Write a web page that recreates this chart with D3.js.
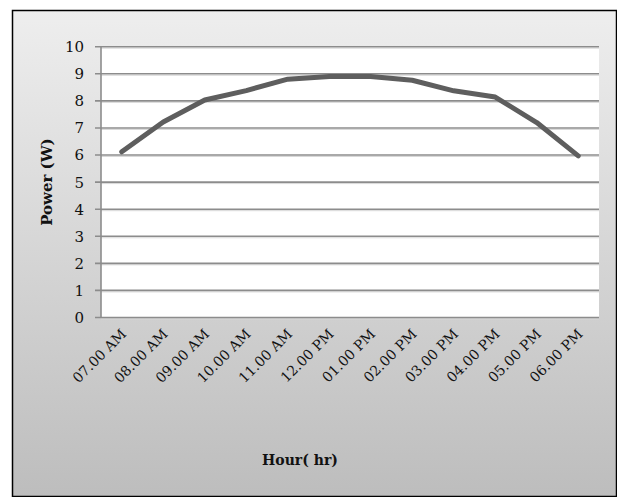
<!DOCTYPE html>
<html>
<head>
<meta charset="utf-8">
<script src="https://cdn.jsdelivr.net/npm/d3@7"></script>
<style>
  body { margin: 0; background: #fff; }
  svg { display: block; }
</style>
</head>
<body>
<svg id="chart" width="617" height="497"></svg>
<script>
// data
let hours = ["07.00 AM", "08.00 AM", "09.00 AM", "10.00 AM", "11.00 AM", "12.00 PM",
             "01.00 PM", "02.00 PM", "03.00 PM", "04.00 PM", "05.00 PM", "06.00 PM"];
let power = [6.12, 7.22, 8.03, 8.38, 8.8, 8.9, 8.9, 8.76, 8.37, 8.14, 7.2, 5.97];
let yTicks = [0, 1, 2, 3, 4, 5, 6, 7, 8, 9, 10];

let svg = d3.select("#chart");
let position = { left: 101, top: 46.7, right: 599, bottom: 317.5 };
let font = "'DejaVu Serif', serif";

let defs = svg.append("defs");
let bg = defs.append("linearGradient")
    .attr("id", "bg")
    .attr("x1", "0%").attr("y1", "0%")
    .attr("x2", "0%").attr("y2", "100%");
bg.append("stop").attr("offset", "0%").attr("stop-color", "#eeeeee");
bg.append("stop").attr("offset", "100%").attr("stop-color", "#bdbdbd");

// chart area with border
svg.append("rect")
    .attr("x", 12.5).attr("y", 10.5)
    .attr("width", 617 - 13).attr("height", 497 - 11)
    .style("fill", "url(#bg)")
    .style("stroke", "black")
    .style("stroke-width", 1.5);

let x = d3.scaleBand()
    .domain(hours)
    .range([position.left, position.right]);

let y = d3.scaleLinear()
    .domain([0, 10])
    .range([position.bottom, position.top]);

// plot area
svg.append("rect")
    .attr("x", position.left).attr("y", position.top)
    .attr("width", position.right - position.left)
    .attr("height", position.bottom - position.top)
    .style("fill", "white");

// gridlines (with faint light line underneath)
let grid = svg.append("g");
grid.selectAll(".hl")
    .data(yTicks)
    .enter()
    .append("line")
      .attr("x1", position.left).attr("x2", position.right)
      .attr("y1", d => y(d) + 1.5).attr("y2", d => y(d) + 1.5)
      .style("stroke", "#d8d8d8").style("stroke-width", 1);
grid.selectAll(".gl")
    .data(yTicks)
    .enter()
    .append("line")
      .attr("x1", position.left - 6).attr("x2", position.right)
      .attr("y1", d => y(d)).attr("y2", d => y(d))
      .style("stroke", "#8c8c8c").style("stroke-width", 1.6);

// y axis line
svg.append("line")
    .attr("x1", position.left).attr("x2", position.left)
    .attr("y1", position.top).attr("y2", position.bottom)
    .style("stroke", "#8c8c8c").style("stroke-width", 1.6);

// y tick labels
svg.append("g")
    .selectAll("text")
    .data(yTicks)
    .enter()
    .append("text")
      .attr("x", 84)
      .attr("y", d => y(d))
      .attr("dy", "0.36em")
      .attr("text-anchor", "end")
      .style("font-family", font)
      .style("font-size", "15px")
      .style("fill", "#111")
      .text(d => d);

// x tick labels, rotated
svg.append("g")
    .selectAll("text")
    .data(hours)
    .enter()
    .append("text")
      .attr("transform", d => "translate(" + (x(d) + x.bandwidth() / 2 + 2) + "," + (position.bottom + 14) + ") rotate(-45)")
      .attr("text-anchor", "end")
      .attr("dy", "0.35em")
      .style("font-family", font)
      .style("font-size", "14px")
      .style("fill", "#111")
      .text(d => d);

// the series line
let line = d3.line()
    .x((d, i) => x(hours[i]) + x.bandwidth() / 2)
    .y(d => y(d));

svg.append("path")
    .datum(power)
    .attr("d", line)
    .style("fill", "none")
    .style("stroke", "#5e5e5e")
    .style("stroke-width", 5)
    .style("stroke-linejoin", "round")
    .style("stroke-linecap", "round");

// axis titles
svg.append("text")
    .attr("transform", "translate(52," + ((position.top + position.bottom) / 2) + ") rotate(-90)")
    .attr("text-anchor", "middle")
    .style("font-family", font)
    .style("font-size", "15px")
    .style("font-weight", "bold")
    .style("fill", "#111")
    .text("Power (W)");

svg.append("text")
    .attr("x", 300)
    .attr("y", 465)
    .attr("text-anchor", "middle")
    .style("font-family", font)
    .style("font-size", "14px")
    .style("font-weight", "bold")
    .style("fill", "#111")
    .text("Hour( hr)");
</script>
</body>
</html>
